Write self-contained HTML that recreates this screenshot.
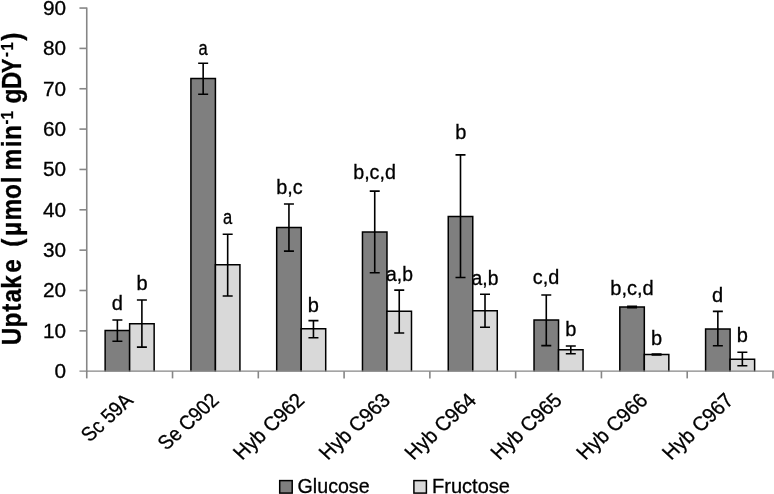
<!DOCTYPE html>
<html lang="en">
<head>
<meta charset="utf-8">
<title>Uptake chart</title>
<style>
html,body{margin:0;padding:0;background:#fff;}
body{width:774px;height:494px;overflow:hidden;}
svg{display:block;}
text{font-family:"Liberation Sans",sans-serif;fill:#000;stroke:#000;stroke-width:0.3px;}
</style>
</head>
<body>
<svg width="774" height="494" viewBox="0 0 774 494">
<rect x="0" y="0" width="774" height="494" fill="#ffffff"/>
<g stroke="#000" stroke-width="1.5">
<path d="M105.13 371.60V330.50H129.64V371.60" fill="#7f7f7f"/>
<path d="M129.64 371.60V323.80H154.15V371.60" fill="#d9d9d9"/>
<path d="M190.91 371.60V78.60H215.42V371.60" fill="#7f7f7f"/>
<path d="M215.42 371.60V264.70H239.93V371.60" fill="#d9d9d9"/>
<path d="M276.69 371.60V227.50H301.20V371.60" fill="#7f7f7f"/>
<path d="M301.20 371.60V328.70H325.71V371.60" fill="#d9d9d9"/>
<path d="M362.47 371.60V232.00H386.98V371.60" fill="#7f7f7f"/>
<path d="M386.98 371.60V311.30H411.49V371.60" fill="#d9d9d9"/>
<path d="M448.25 371.60V216.60H472.76V371.60" fill="#7f7f7f"/>
<path d="M472.76 371.60V310.80H497.27V371.60" fill="#d9d9d9"/>
<path d="M534.03 371.60V320.10H558.54V371.60" fill="#7f7f7f"/>
<path d="M558.54 371.60V349.70H583.05V371.60" fill="#d9d9d9"/>
<path d="M619.81 371.60V307.00H644.32V371.60" fill="#7f7f7f"/>
<path d="M644.32 371.60V354.50H668.83V371.60" fill="#d9d9d9"/>
<path d="M705.59 371.60V329.00H730.10V371.60" fill="#7f7f7f"/>
<path d="M730.10 371.60V359.30H754.61V371.60" fill="#d9d9d9"/>
</g>
<g stroke="#868686" stroke-width="1.6" fill="none">
<line x1="86.75" y1="7.5" x2="86.75" y2="371.95"/>
<line x1="79.45" y1="371.2" x2="774" y2="371.2" stroke-width="1.25"/>
<line x1="79.45" y1="330.85" x2="86.75" y2="330.85"/>
<line x1="79.45" y1="290.50" x2="86.75" y2="290.50"/>
<line x1="79.45" y1="250.15" x2="86.75" y2="250.15"/>
<line x1="79.45" y1="209.80" x2="86.75" y2="209.80"/>
<line x1="79.45" y1="169.45" x2="86.75" y2="169.45"/>
<line x1="79.45" y1="129.10" x2="86.75" y2="129.10"/>
<line x1="79.45" y1="88.75" x2="86.75" y2="88.75"/>
<line x1="79.45" y1="48.40" x2="86.75" y2="48.40"/>
<line x1="79.45" y1="8.05" x2="86.75" y2="8.05"/>
<line x1="86.75" y1="371.2" x2="86.75" y2="378.4"/>
<line x1="172.53" y1="371.2" x2="172.53" y2="378.4"/>
<line x1="258.31" y1="371.2" x2="258.31" y2="378.4"/>
<line x1="344.09" y1="371.2" x2="344.09" y2="378.4"/>
<line x1="429.87" y1="371.2" x2="429.87" y2="378.4"/>
<line x1="515.65" y1="371.2" x2="515.65" y2="378.4"/>
<line x1="601.43" y1="371.2" x2="601.43" y2="378.4"/>
<line x1="687.21" y1="371.2" x2="687.21" y2="378.4"/>
<line x1="772.99" y1="371.2" x2="772.99" y2="378.4"/>
</g>
<g stroke="#000" stroke-width="1.6" fill="none">
<path d="M112.38 320.00H122.38M112.38 341.30H122.38M117.38 320.00V341.30"/>
<path d="M136.89 300.00H146.89M136.89 347.10H146.89M141.89 300.00V347.10"/>
<path d="M198.16 63.20H208.16M198.16 94.20H208.16M203.16 63.20V94.20"/>
<path d="M222.68 234.30H232.68M222.68 296.00H232.68M227.68 234.30V296.00"/>
<path d="M283.94 204.00H293.94M283.94 251.10H293.94M288.94 204.00V251.10"/>
<path d="M308.45 320.60H318.45M308.45 337.80H318.45M313.45 320.60V337.80"/>
<path d="M369.73 191.10H379.73M369.73 272.80H379.73M374.73 191.10V272.80"/>
<path d="M394.24 290.10H404.24M394.24 333.00H404.24M399.24 290.10V333.00"/>
<path d="M455.50 154.90H465.50M455.50 277.50H465.50M460.50 154.90V277.50"/>
<path d="M480.01 294.20H490.01M480.01 327.20H490.01M485.01 294.20V327.20"/>
<path d="M541.28 295.00H551.28M541.28 345.60H551.28M546.28 295.00V345.60"/>
<path d="M565.79 346.00H575.79M565.79 353.70H575.79M570.79 346.00V353.70"/>
<path d="M627.07 306.30H637.07M627.07 307.70H637.07M632.07 306.30V307.70"/>
<path d="M651.58 354.00H661.58M651.58 355.00H661.58M656.58 354.00V355.00"/>
<path d="M712.85 311.40H722.85M712.85 345.80H722.85M717.85 311.40V345.80"/>
<path d="M737.36 352.30H747.36M737.36 365.80H747.36M742.36 352.30V365.80"/>
</g>
<g font-size="20.0" text-anchor="end">
<text x="66.0" y="378.10" textLength="11.55" lengthAdjust="spacingAndGlyphs">0</text>
<text x="66.0" y="337.75" textLength="23.1" lengthAdjust="spacingAndGlyphs">10</text>
<text x="66.0" y="297.40" textLength="23.1" lengthAdjust="spacingAndGlyphs">20</text>
<text x="66.0" y="257.05" textLength="23.1" lengthAdjust="spacingAndGlyphs">30</text>
<text x="66.0" y="216.70" textLength="23.1" lengthAdjust="spacingAndGlyphs">40</text>
<text x="66.0" y="176.35" textLength="23.1" lengthAdjust="spacingAndGlyphs">50</text>
<text x="66.0" y="136.00" textLength="23.1" lengthAdjust="spacingAndGlyphs">60</text>
<text x="66.0" y="95.65" textLength="23.1" lengthAdjust="spacingAndGlyphs">70</text>
<text x="66.0" y="55.30" textLength="23.1" lengthAdjust="spacingAndGlyphs">80</text>
<text x="66.0" y="14.95" textLength="23.1" lengthAdjust="spacingAndGlyphs">90</text>
</g>
<g font-size="20.0" text-anchor="middle">
<text x="117.30" y="309.80">d</text>
<text x="142.00" y="289.80">b</text>
<text x="203.00" y="55.00" textLength="9.2" lengthAdjust="spacingAndGlyphs">a</text>
<text x="227.60" y="224.00" textLength="9.2" lengthAdjust="spacingAndGlyphs">a</text>
<text x="289.50" y="194.10" textLength="26.5" lengthAdjust="spacingAndGlyphs">b,c</text>
<text x="313.20" y="311.90">b</text>
<text x="374.55" y="179.40" textLength="42.7" lengthAdjust="spacingAndGlyphs">b,c,d</text>
<text x="399.50" y="281.20" textLength="26.9" lengthAdjust="spacingAndGlyphs">a,b</text>
<text x="460.70" y="138.90">b</text>
<text x="485.00" y="284.80" textLength="26.9" lengthAdjust="spacingAndGlyphs">a,b</text>
<text x="546.00" y="284.30" textLength="26.5" lengthAdjust="spacingAndGlyphs">c,d</text>
<text x="570.80" y="335.90">b</text>
<text x="632.00" y="295.40" textLength="43.5" lengthAdjust="spacingAndGlyphs">b,c,d</text>
<text x="656.60" y="345.00">b</text>
<text x="717.50" y="301.90">d</text>
<text x="742.30" y="341.70">b</text>
</g>
<g font-size="20.0" text-anchor="end">
<text transform="translate(134.24 401.6) scale(1.08 1) rotate(-45)" x="0" y="0" textLength="58.3" lengthAdjust="spacingAndGlyphs">Sc 59A</text>
<text transform="translate(220.02 401.6) scale(1.08 1) rotate(-45)" x="0" y="0" textLength="70.0" lengthAdjust="spacingAndGlyphs">Se C902</text>
<text transform="translate(305.80 401.6) scale(1.08 1) rotate(-45)" x="0" y="0" textLength="83.5" lengthAdjust="spacingAndGlyphs">Hyb C962</text>
<text transform="translate(391.58 401.6) scale(1.08 1) rotate(-45)" x="0" y="0" textLength="83.5" lengthAdjust="spacingAndGlyphs">Hyb C963</text>
<text transform="translate(477.36 401.6) scale(1.08 1) rotate(-45)" x="0" y="0" textLength="83.5" lengthAdjust="spacingAndGlyphs">Hyb C964</text>
<text transform="translate(563.14 401.6) scale(1.08 1) rotate(-45)" x="0" y="0" textLength="83.5" lengthAdjust="spacingAndGlyphs">Hyb C965</text>
<text transform="translate(648.92 401.6) scale(1.08 1) rotate(-45)" x="0" y="0" textLength="83.5" lengthAdjust="spacingAndGlyphs">Hyb C966</text>
<text transform="translate(734.70 401.6) scale(1.08 1) rotate(-45)" x="0" y="0" textLength="83.5" lengthAdjust="spacingAndGlyphs">Hyb C967</text>
</g>
<g font-weight="bold" stroke-width="0.2">
<text transform="translate(21.4 0) rotate(-90) scale(0.91 1)" font-size="26.8" x="-379.39 -359.95 -342.54 -332.44 -317.25 -299.83 -277.47 -271.22 -259.39 -242.41 -218.73 -201.46 -191.21 -187.46 -161.95 -153.73" y="0">Uptake (µmol min</text>
<text transform="translate(11.4 0) rotate(-90) scale(0.91 1)" font-size="16.2" x="-136.81" y="0">-</text>
<text transform="translate(13.0 0) rotate(-90) scale(0.91 1)" font-size="16.2" x="-131.00" y="0">1</text>
<text transform="translate(21.4 0) rotate(-90) scale(0.91 1)" font-size="26.8" x="-113.77 -98.20" y="0">gD</text>
<text transform="translate(21.4 0) rotate(-90) scale(0.8 1)" font-size="26.8" x="-91.20" y="0">Y</text>
<text transform="translate(11.4 0) rotate(-90) scale(0.91 1)" font-size="16.2" x="-62.63" y="0">-</text>
<text transform="translate(13.0 0) rotate(-90) scale(0.91 1)" font-size="16.2" x="-55.61" y="0">1</text>
<text transform="translate(21.4 0) rotate(-90) scale(0.91 1)" font-size="26.8" x="-44.85" y="0">)</text>
</g>
<g stroke="#000" stroke-width="1.5">
<rect x="279.7" y="480.6" width="12.5" height="12.5" fill="#7f7f7f"/>
<rect x="413.9" y="480.6" width="12.5" height="12.5" fill="#d9d9d9"/>
</g>
<g font-size="20.0">
<text x="297.6" y="492.6" textLength="72" lengthAdjust="spacingAndGlyphs">Glucose</text>
<text x="432.0" y="492.6" textLength="78" lengthAdjust="spacingAndGlyphs">Fructose</text>
</g>
</svg>
</body>
</html>
